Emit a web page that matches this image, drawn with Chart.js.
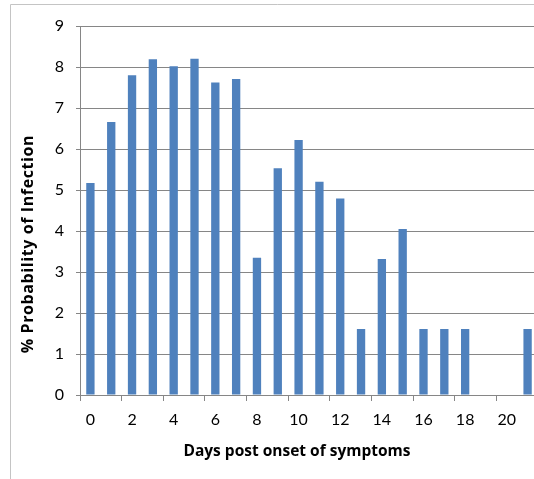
<!DOCTYPE html>
<html>
<head>
<meta charset="utf-8">
<script src="https://cdn.jsdelivr.net/npm/chart.js@4.4.1/dist/chart.umd.min.js"></script>
<style>
  html, body { margin: 0; padding: 0; background: #fff; overflow: hidden; }
  #mycanvas { display: block; }
</style>
</head>
<body>
<canvas id="mycanvas" width="545" height="479"></canvas>
<script>
// days after symptom onset and the probability for each
var days = ['0','1','2','3','4','5','6','7','8','9','10','11','12','13','14','15','16','17','18','19','20','21'];
var probability = [5.17, 6.66, 7.80, 8.19, 8.02, 8.20, 7.62, 7.71, 3.35, 5.53, 6.22, 5.20, 4.79, 1.61, 3.32, 4.05, 1.61, 1.61, 1.61, 0, 0, 1.61];
var yTicks = [0, 1, 2, 3, 4, 5, 6, 7, 8, 9];
var xTitle = 'Days post onset of symptoms';
var yTitle = '% Probability of Infection';

var gridGray = '#868686';
var fontName = 'Lato, "Open Sans", sans-serif';
var titleFont = '"Open Sans", Lato, sans-serif';

// outer frame + axis titles
var extras = {
  id: 'extras',
  beforeDraw: function(chart) {
    var c = chart.ctx;
    c.save();
    c.strokeStyle = '#c4c4c4';
    c.lineWidth = 1;
    c.beginPath();
    c.moveTo(10.5, chart.height);
    c.lineTo(10.5, 4.5);
    c.lineTo(chart.width, 4.5);
    c.stroke();
    c.restore();
  },
  afterDraw: function(chart) {
    var c = chart.ctx;
    c.save();
    c.fillStyle = '#000';
    c.font = 'bold 15.5px ' + titleFont;
    c.textAlign = 'center';
    c.textBaseline = 'middle';
    c.fillText(xTitle, 297, 452);
    c.font = 'bold 16px ' + titleFont;
    c.letterSpacing = '0.6px';
    c.translate(28, 244);
    c.rotate(-Math.PI / 2);
    c.fillText(yTitle, 0, 0);
    c.restore();
  }
};

var ctx = document.getElementById('mycanvas');

var chart = new Chart(ctx, {
  type: 'bar',
  data: {
    labels: days,
    datasets: [{
      label: 'Probability',
      data: probability,
      backgroundColor: '#4f81bd',
      borderWidth: 0,
      barPercentage: 0.4,
      categoryPercentage: 1.0
    }]
  },
  options: {
    responsive: false,
    animation: false,
    layout: { padding: { left: 0, right: 7, top: 26, bottom: 0 } },
    plugins: {
      legend: { display: false },
      tooltip: { enabled: false }
    },
    scales: {
      x: {
        offset: true,
        afterFit: function(scale) { scale.height = 84; },
        grid: {
          offset: true,
          drawOnChartArea: false,
          drawTicks: true,
          tickLength: 6,
          tickColor: function(c) {
            return (c.index !== undefined && c.index % 2 === 0) ? gridGray : 'rgba(0,0,0,0)';
          }
        },
        border: { color: gridGray, width: 1 },
        ticks: {
          autoSkip: false,
          maxRotation: 0,
          padding: 9,
          color: '#000',
          font: { family: fontName, size: 16 },
          callback: function(val, i) { return i % 2 === 0 ? days[i] : ''; }
        }
      },
      y: {
        min: yTicks[0],
        max: yTicks[yTicks.length - 1],
        afterFit: function(scale) { scale.width = 80; },
        afterBuildTicks: function(scale) {
          scale.ticks = yTicks.map(function(v) { return { value: v }; });
        },
        grid: {
          color: gridGray,
          lineWidth: 1,
          drawTicks: true,
          tickLength: 4
        },
        border: { color: gridGray, width: 1 },
        ticks: {
          padding: 12,
          color: '#000',
          font: { family: fontName, size: 16 }
        }
      }
    }
  },
  plugins: [extras]
});
</script>
</body>
</html>
